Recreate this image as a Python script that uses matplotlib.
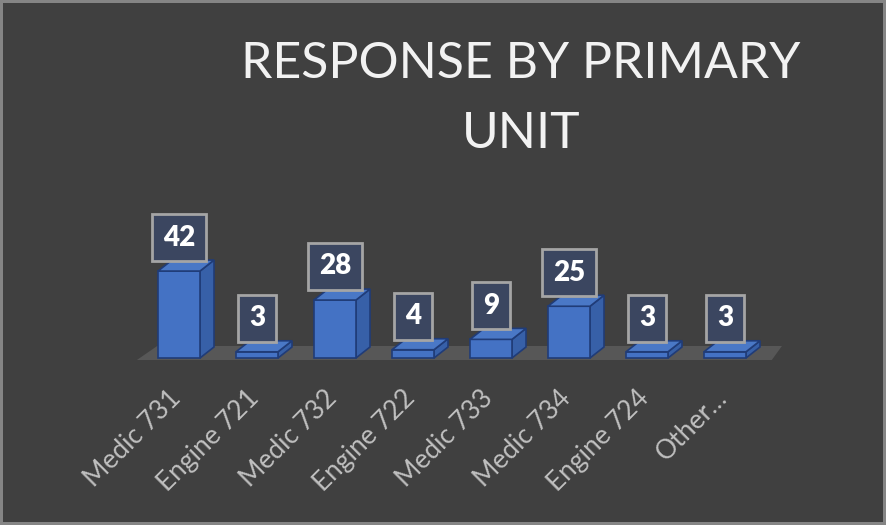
import matplotlib
matplotlib.use("Agg")
import matplotlib.pyplot as plt
from matplotlib.patches import Polygon

# data
units = ["Medic 731", "Engine 721", "Medic 732", "Engine 722",
         "Medic 733", "Medic 734", "Engine 724", "Other..."]
responses = [42, 3, 28, 4, 9, 25, 3, 3]
title_lines = ["RESPONSE BY PRIMARY", "UNIT"]

BG = "#404040"
FRONT = "#4472c4"
SIDE = "#3760a8"
TOP = "#4a78c6"
EDGE = "#203c78"

plt.rcParams["font.family"] = ["Lato", "DejaVu Sans"]

W, H = 886, 525
fig = plt.figure(figsize=(W / 100, H / 100), dpi=100, facecolor=BG)
fig.patch.set_edgecolor("#858585")
fig.patch.set_linewidth(4)

# pixel layout of the plot area
k = 2.07            # px per response
x0_px, step_px = 179, 78
base_px = 358
ymin, ymax = -4, 76
xmin, xmax = -0.7, 7.9
left = x0_px + xmin * step_px
right = x0_px + xmax * step_px
bot = base_px - ymin * k
top = base_px - ymax * k
ax = fig.add_axes([left / W, (H - bot) / H, (right - left) / W, (bot - top) / H])
ax.set_xlim(xmin, xmax)
ax.set_ylim(ymin, ymax)
ax.axis("off")

n = len(units)
xs = list(range(n))
w = 42 / step_px
dx = 14 / step_px
dy = 11 / k

# floor
fy0 = -2 / k
fy1 = fy0 + 14 / k
floor = Polygon([(-0.54, fy0), (n - 1 + 0.6, fy0), (n - 1 + 0.73, fy1), (-0.28, fy1)],
                closed=True, fc="#575757", ec="none", zorder=1, clip_on=False)
ax.add_patch(floor)

ax.bar(xs, responses, width=w, color=FRONT, edgecolor=EDGE, linewidth=1.2, zorder=3)
for x, v in zip(xs, responses):
    xl, xr = x - w / 2, x + w / 2
    side = Polygon([(xr, 0), (xr + dx, dy), (xr + dx, v + dy), (xr, v)],
                   closed=True, fc=SIDE, ec=EDGE, lw=1.2, zorder=2)
    topf = Polygon([(xl, v), (xr, v), (xr + dx, v + dy), (xl + dx, v + dy)],
                   closed=True, fc=TOP, ec=EDGE, lw=1.2, zorder=4)
    ax.add_patch(side)
    ax.add_patch(topf)

# value boxes
pad = 0.38
fs_val = 20
pad_px = pad * fs_val * 100 / 72
for x, v in zip(xs, responses):
    ax.annotate(str(v), (x, v), xytext=(0, 10 + pad_px), textcoords="offset pixels",
                ha="center", va="bottom", fontsize=fs_val, fontweight="heavy", color="white",
                zorder=6, annotation_clip=False,
                bbox=dict(boxstyle=f"square,pad={pad}", fc="#3b4660", ec="#a5a5a5", lw=2))

# category labels
for x, lab in zip(xs, units):
    ax.annotate(lab.replace("...", "\u2026"), (x, 0), xytext=(-2, -36), textcoords="offset pixels",
                rotation=45, rotation_mode="anchor", ha="right", va="center",
                fontsize=19, color="#bfbfbf", annotation_clip=False)

for line, base in zip(title_lines, [78, 148]):
    fig.text(521 / W, 1 - base / H, line, ha="center", va="baseline",
             fontsize=36, color="#f2f2f2")

fig.savefig("out.png", dpi=100, facecolor=BG, edgecolor=fig.patch.get_edgecolor())
